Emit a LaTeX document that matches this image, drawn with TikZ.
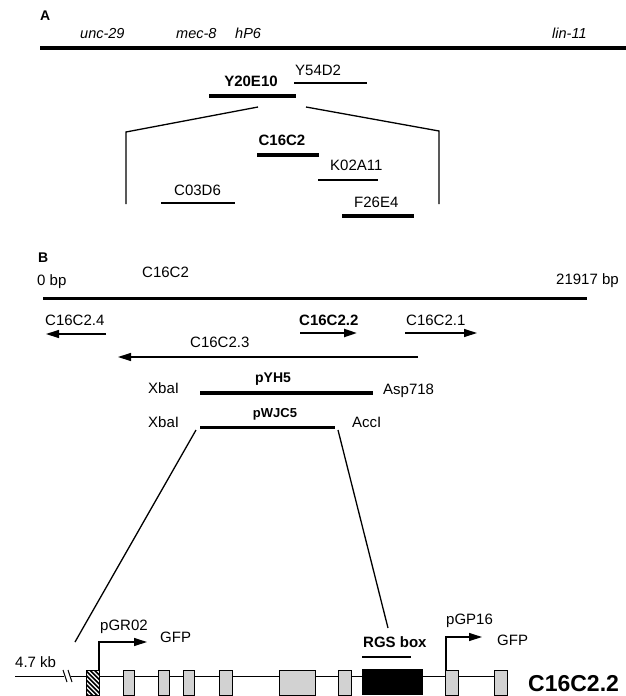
\documentclass[tikz,border=0pt]{standalone}
\usepackage{fontspec}
\setmainfont{Liberation Sans}
\usetikzlibrary{arrows.meta,patterns}
\begin{document}
\begin{tikzpicture}[x=1pt,y=-1pt,
  lab/.style={inner sep=0pt, anchor=base west, font=\fontsize{15}{17}\selectfont},
  blab/.style={inner sep=0pt, anchor=base west, font=\fontsize{15}{17}\selectfont\bfseries},
  bclab/.style={inner sep=0pt, anchor=base, font=\fontsize{15}{17}\selectfont\bfseries},
  ilab/.style={inner sep=0pt, anchor=base west, font=\fontsize{14.5}{17}\selectfont\itshape},
  panel/.style={inner sep=0pt, anchor=base west, font=\fontsize{14}{16}\selectfont\bfseries},
  seg/.style={line width=1.3pt},
  bigseg/.style={line width=3.5pt},
  arr/.style={line width=1.2pt, -{Triangle[length=13pt,width=8pt]}},
  barr/.style={line width=2.2pt, -{Triangle[length=13pt,width=8pt]}},
  exon/.style={draw=black, line width=0.9pt, fill=gray!35},
]
\useasboundingbox (0,0) rectangle (626,696);

% ---------------- Panel A ----------------
\node[panel] (A) at (40,20) {A};
\node[ilab] (unc) at (80,38) {unc-29};
\node[ilab] (mec) at (176,38) {mec-8};
\node[ilab] (hp6) at (235,38) {hP6};
\node[ilab] (lin) at (552,38) {lin-11};
\draw[bigseg] (40,48) -- (626,48);

\node[bclab] (y20) at (251,86) {Y20E10};
\draw[bigseg] (209,96) -- (296,96);
\node[lab] (y54) at (295,75.5) {Y54D2};
\draw[seg] (294,83) -- (367,83);

\draw[seg] (258,107) -- (126,132) -- (126,204);
\draw[seg] (306,107) -- (439,131) -- (439,204);

\node[bclab] (c16) at (282,145.5) {C16C2};
\draw[bigseg] (257,155) -- (319,155);
\node[lab] (k02) at (330,170.5) {K02A11};
\draw[seg] (318,180) -- (378,180);
\node[lab] (c03) at (174,195.5) {C03D6};
\draw[seg] (161,203) -- (235,203);
\node[lab] (f26) at (354,207.5) {F26E4};
\draw[bigseg] (342,216) -- (414,216);

% ---------------- Panel B ----------------
\node[panel] (B) at (38,262) {B};
\node[lab] (zero) at (37,285.5) {0 bp};
\node[lab] (c16b) at (142,277.5) {C16C2};
\node[lab] (end) at (556,284.5) {21917 bp};
\draw[line width=3pt] (43,298) -- (587,298);

\node[lab] (g4) at (45,325.5) {C16C2.4};
\draw[arr] (106,334) -- (46,334);
\node[blab] (g2) at (299,325.5) {C16C2.2};
\draw[barr] (300,333) -- (357,333);
\node[lab] (g1) at (406,325.5) {C16C2.1};
\draw[arr] (405,333) -- (477,333);
\node[lab] (g3) at (190,347.5) {C16C2.3};
\draw[arr] (418,357) -- (118,357);

\node[lab] (x1) at (148,393.5) {XbaI};
\node[inner sep=0pt, anchor=base, font=\fontsize{14}{16}\selectfont\bfseries] (pyh) at (273,382) {pYH5};
\draw[line width=4pt] (200,393) -- (373,393);
\node[lab] (asp) at (383,394.5) {Asp718};
\node[lab] (x2) at (148,427.5) {XbaI};
\node[inner sep=0pt, anchor=base, font=\fontsize{13}{15}\selectfont\bfseries] (pwj) at (275,417) {pWJC5};
\draw[line width=3pt] (200,427) -- (335,427);
\node[lab] (acc) at (352,427.5) {AccI};

\draw[seg] (196,430) -- (75,642);
\draw[seg] (338,430) -- (388,628);

% ---------------- Gene structure ----------------
\node[lab] (kb) at (15,667.5) {4.7 kb};
\draw[line width=1pt] (15,676) -- (64,676);
\draw[line width=1pt] (63,670) -- (67,682);
\draw[line width=1pt] (68,670) -- (72,682);
\draw[line width=1pt] (71,676) -- (494,676);

\begin{scope}
  \clip (86,670) rectangle (99,695);
  \fill[black] (86,670) rectangle (99,695);
  \foreach \s in {-30,-25.5,...,15}
    \draw[white, line width=1.3pt] (86+\s,670) -- (111+\s,695);
\end{scope}
\draw[line width=0.9pt] (86,670) rectangle (99,695);

\foreach \a/\b in {123/134, 158/169, 183/194, 219/232, 279/315, 338/351, 445/458, 494/507}
  \draw[exon] (\a,670) rectangle (\b,695);
\fill[black] (362,669) rectangle (423,695);

\draw[arr] (99,670) -- (99,642) -- (147,642);
\node[lab] (pgr) at (100,630.5) {pGR02};
\node[lab] (gfp1) at (160,642.5) {GFP};

\node[blab] (rgs) at (363,647.5) {RGS box};
\draw[seg] (362,657) -- (411,657);

\draw[arr] (446,670) -- (446,637) -- (482,637);
\node[lab] (pgp) at (446,624.5) {pGP16};
\node[lab] (gfp2) at (497,645.5) {GFP};

\node[inner sep=0pt, anchor=base west, font=\fontsize{23}{26}\selectfont\bfseries] (name) at (528,691) {C16C2.2};
\end{tikzpicture}
\end{document}
